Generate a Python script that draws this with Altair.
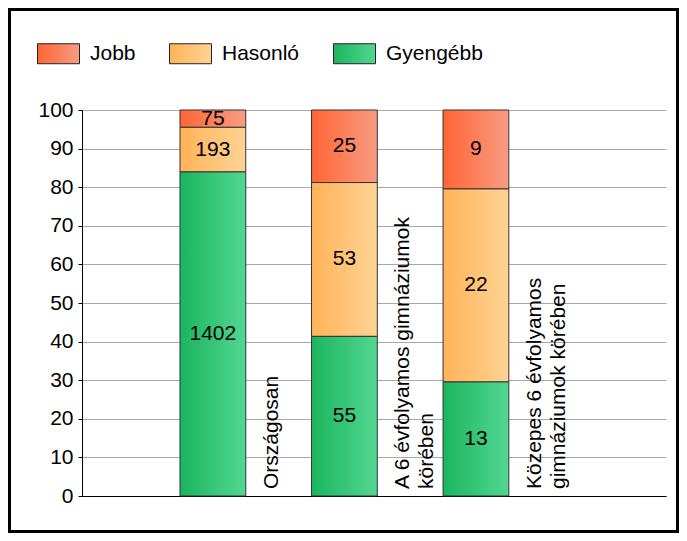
import altair as alt
import pandas as pd

categories = ["Országosan", "A 6 évfolyamos gimnáziumok körében", "Közepes 6 évfolyamos gimnáziumok körében"]
cat_labels = ["Országosan", "A 6 évfolyamos gimnáziumok\nkörében", "Közepes 6 évfolyamos\ngimnáziumok körében"]
series = ["Jobb", "Hasonló", "Gyengébb"]
stack_order = [2, 1, 0]
jobb = [75, 25, 9]
hasonlo = [193, 53, 22]
gyengebb = [1402, 55, 13]
y_ticks = list(range(0, 101, 10))
grad_left = ["#ff6535", "#ffb358", "#1bb55e"]
grad_right = ["#f79c82", "#ffd394", "#52d792"]

FONT = "Liberation Sans"

rows = []
for s, o, vals in zip(series, stack_order, [jobb, hasonlo, gyengebb]):
    for c, v in zip(categories, vals):
        rows.append({"cat": c, "series": s, "ord": o, "value": v})
df = pd.DataFrame(rows)
lab_df = pd.DataFrame({"cat": categories, "label": cat_labels})


def grad(c0, c1):
    return alt.ExprRef(
        expr="{gradient:'linear',x1:0,y1:0,x2:1,y2:0,stops:[{offset:0,color:'%s'},{offset:1,color:'%s'}]}"
        % (c0, c1)
    )


color_range = [grad(a, b) for a, b in zip(grad_left, grad_right)]

x_enc = alt.X(
    "cat:N",
    sort=categories,
    scale=alt.Scale(domain=categories, paddingInner=0.5, paddingOuter=0.97, align=0.384),
    axis=alt.Axis(labels=False, ticks=False, title=None, grid=False, domainColor="black"),
)

y_axis = alt.Axis(
    values=y_ticks,
    tickCount=len(y_ticks) + 5,
    labelOverlap=False,
    title=None,
    labelFontSize=21,
    labelFont=FONT,
    labelColor="black",
    tickSize=4,
    labelPadding=5,
    tickColor="black",
    domainColor="black",
    gridColor="#a8a8a8",
)
y_scale = alt.Scale(domain=[0, 100], nice=False)

base = (
    alt.Chart(df)
    .transform_joinaggregate(total="sum(value)", groupby=["cat"])
    .transform_calculate(pct="100 * datum.value / datum.total")
    .transform_stack(stack="pct", groupby=["cat"], as_=["y0", "y1"], sort=[alt.SortField("ord", order="ascending")])
    .transform_calculate(mid="(datum.y0 + datum.y1) / 2")
)

bars = base.mark_bar(stroke="#333333", strokeWidth=1).encode(
    x=x_enc,
    y=alt.Y("y0:Q", scale=y_scale, axis=y_axis),
    y2="y1:Q",
    color=alt.Color(
        "series:N",
        scale=alt.Scale(domain=series, range=color_range),
        legend=alt.Legend(
            orient="none",
            legendX=-45,
            legendY=-78,
            direction="horizontal",
            title=None,
            symbolType="M-1,-0.476H1V0.476H-1Z",
            symbolSize=1764,
            symbolStrokeColor="#222222",
            symbolStrokeWidth=1,
            symbolOpacity=1,
            labelFontSize=21,
            labelFont=FONT,
            labelColor="black",
            labelOffset=10,
            columnPadding=31,
            padding=0,
        ),
    ),
)

values = base.mark_text(fontSize=21, font=FONT, color="black", baseline="middle").encode(
    x=x_enc,
    y=alt.Y("mid:Q", scale=y_scale, axis=y_axis),
    text="value:Q",
)

labels = (
    alt.Chart(lab_df)
    .mark_text(
        angle=270,
        align="left",
        baseline="middle",
        lineBreak="\n",
        lineHeight=24,
        fontSize=21,
        font=FONT,
        color="black",
        dx=7,
        dy=26,
    )
    .encode(
        x=alt.X("cat:N", sort=categories, bandPosition=1),
        y=alt.Y(datum=0, scale=y_scale, axis=y_axis),
        text="label:N",
    )
)

frame = (
    alt.Chart(pd.DataFrame({"a": [0]}))
    .mark_rect(fill="transparent", stroke="black", strokeWidth=3)
    .encode(x=alt.value(-72.5), x2=alt.value(595.5), y=alt.value(-100.5), y2=alt.value(421.5))
)

chart = (
    alt.layer(bars, values, labels, frame)
    .properties(
        width=584,
        height=386,
        autosize="none",
        padding={"left": 74, "top": 102, "right": 13, "bottom": 37},
    )
    .configure_view(stroke=None)
)

chart.save("out.html", embed_options={"renderer": "svg", "actions": False})
